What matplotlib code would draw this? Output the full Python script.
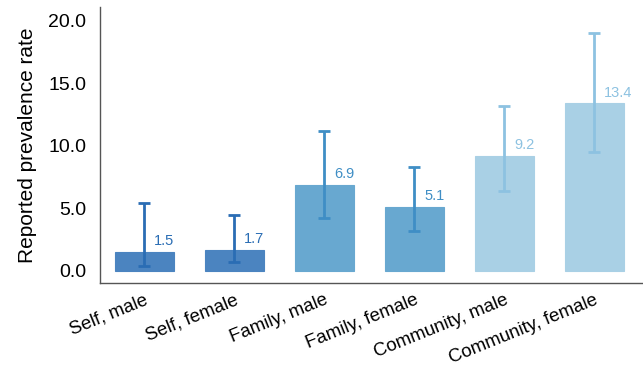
import matplotlib.pyplot as plt
import numpy as np

plt.rcParams['font.family'] = ['Liberation Sans', 'DejaVu Sans']

# ── Data ─────────────────────────────────────────────
categories = ['Self, male', 'Self, female', 'Family, male', 'Family, female',
              'Community, male', 'Community, female']
rates = [1.5, 1.7, 6.9, 5.1, 9.2, 13.4]
ci_low = [0.4, 0.7, 4.2, 3.2, 6.4, 9.5]
ci_high = [5.4, 4.5, 11.2, 8.3, 13.2, 19.0]
labels = ['1.5', '1.7', '6.9', '5.1', '9.2', '13.4']
groups = ['self', 'self', 'family', 'family', 'community', 'community']

BAR = {'self': '#4b84c0', 'family': '#68a8d0', 'community': '#a9d0e5'}
ERR = {'self': '#2a6db4', 'family': '#3f8ec5', 'community': '#8dc2e1'}

fig, ax = plt.subplots(figsize=(6.43, 3.73), dpi=100)
fig.subplots_adjust(left=0.156, right=1.0, bottom=0.241, top=0.981)

x = np.arange(len(categories))
for i, g in enumerate(groups):
    ax.bar(x[i], rates[i], width=0.65, color=BAR[g], edgecolor=BAR[g], lw=0.8)
    err = [[rates[i] - ci_low[i]], [ci_high[i] - rates[i]]]
    ax.errorbar(x[i], rates[i], yerr=err, fmt='none', ecolor=ERR[g],
                elinewidth=2, capsize=4.5, capthick=2)
    ax.text(x[i] + 0.11, rates[i] + 0.3, labels[i], color=ERR[g],
            fontsize=10.5, ha='left', va='bottom')

ax.set_xlim(-0.49, 5.54)
ax.set_ylim(-0.98, 21.1)
ax.set_yticks([0, 5, 10, 15, 20])
ax.set_yticklabels([f'{v:.1f}' for v in [0, 5, 10, 15, 20]], fontsize=14)
ax.set_xticks(x)
ax.set_xticklabels(categories, rotation=22, ha='right', rotation_mode='anchor',
                   fontsize=13.4)
ax.tick_params(length=0)
ax.tick_params(axis='y', pad=10)
ax.tick_params(axis='x', pad=6)
ax.set_ylabel('Reported prevalence rate', fontsize=15, labelpad=8)

for s in ['top', 'right']:
    ax.spines[s].set_visible(False)
for s in ['left', 'bottom']:
    ax.spines[s].set_color('#555555')
    ax.spines[s].set_linewidth(1)

plt.savefig('out.png', dpi=100)
plt.close()
